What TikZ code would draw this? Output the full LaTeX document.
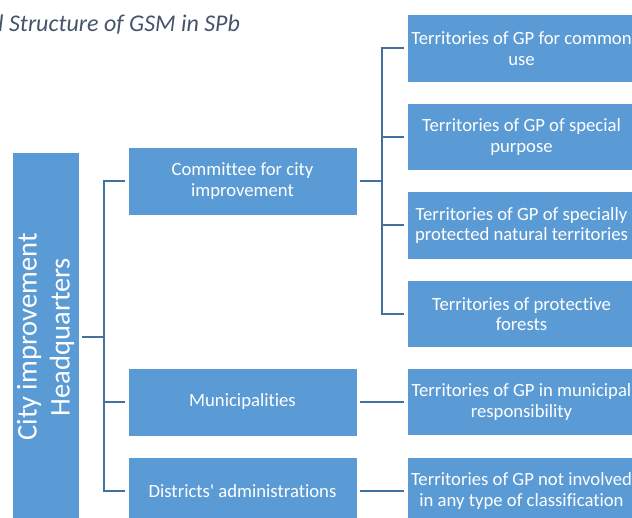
\documentclass[tikz,border=0pt]{standalone}
\usepackage{fontspec}
\setmainfont{Carlito}[Ligatures={NoCommon}]
\definecolor{boxblue}{HTML}{5B9BD5}
\definecolor{linkblue}{HTML}{41719C}
\definecolor{titlegray}{HTML}{44546A}
\tikzset{
  orgbox/.style={fill=boxblue, draw=white, line width=0.8pt, text=white, align=center,
    inner sep=0pt, font=\fontsize{18.7}{20.5}\selectfont},
  midbox/.style={orgbox, minimum width=229pt, minimum height=68pt},
  rightbox/.style={orgbox, minimum width=229pt, minimum height=67.5pt},
  link/.style={draw=linkblue, line width=2pt},
}
\begin{document}
\begin{tikzpicture}[x=1pt,y=-1pt]
\useasboundingbox (0,0) rectangle (632,518);
\clip (0,0) rectangle (632,518);
% title
\node[anchor=base west, inner sep=0pt, text=titlegray, font=\fontsize{24}{26}\selectfont\itshape] (title) at (-2,32) {l Structure of GSM in SPb};
% left headquarters box
\node[orgbox, minimum width=370pt, minimum height=67pt, font=\fontsize{28.5}{33}\selectfont, rotate=90] (hq) at (45.5,337) {City improvement\\Headquarters};
% middle boxes
\node[midbox] (com) at (242.5,181) {Committee for city\\improvement};
\node[midbox] (mun) at (242.5,402) {Municipalities};
\node[midbox] (dis) at (242.5,491) {Districts\textquotesingle{} administrations};
% right boxes
\node[rightbox] (r1) at (521.5,48.5) {Territories of GP for common\\use};
\node[rightbox] (r2) at (521.5,137) {Territories of GP of special\\purpose};
\node[rightbox] (r3) at (521.5,225.5) {Territories of GP of specially\\protected natural territories};
\node[rightbox] (r4) at (521.5,314) {Territories of protective\\forests};
\node[rightbox] (r5) at (521.5,402) {Territories of GP in municipal\\responsibility};
\node[rightbox] (r6) at (521.5,491) {Territories of GP not involved\\in any type of classification};
% connectors from headquarters
\coordinate (j1) at (104,337);
\draw[link, shorten <=3pt] (hq.south) -- (j1);
\draw[link, shorten >=3pt] (j1) |- (com.west);
\draw[link, shorten >=3pt] (j1) |- (mun.west);
\draw[link, shorten >=3pt] (j1) |- (dis.west);
% connectors from committee
\coordinate (j2) at (382,181);
\draw[link, shorten <=3pt] (com.east) -- (j2);
\draw[link, shorten >=3pt] (j2) |- (r1.west);
\draw[link, shorten >=3pt] (j2) |- (r2.west);
\draw[link, shorten >=3pt] (j2) |- (r3.west);
\draw[link, shorten >=3pt] (j2) |- (r4.west);
% single connectors
\draw[link, shorten <=3pt, shorten >=3pt] (mun.east) -- (r5.west);
\draw[link, shorten <=3pt, shorten >=3pt] (dis.east) -- (r6.west);
\end{tikzpicture}
\end{document}
